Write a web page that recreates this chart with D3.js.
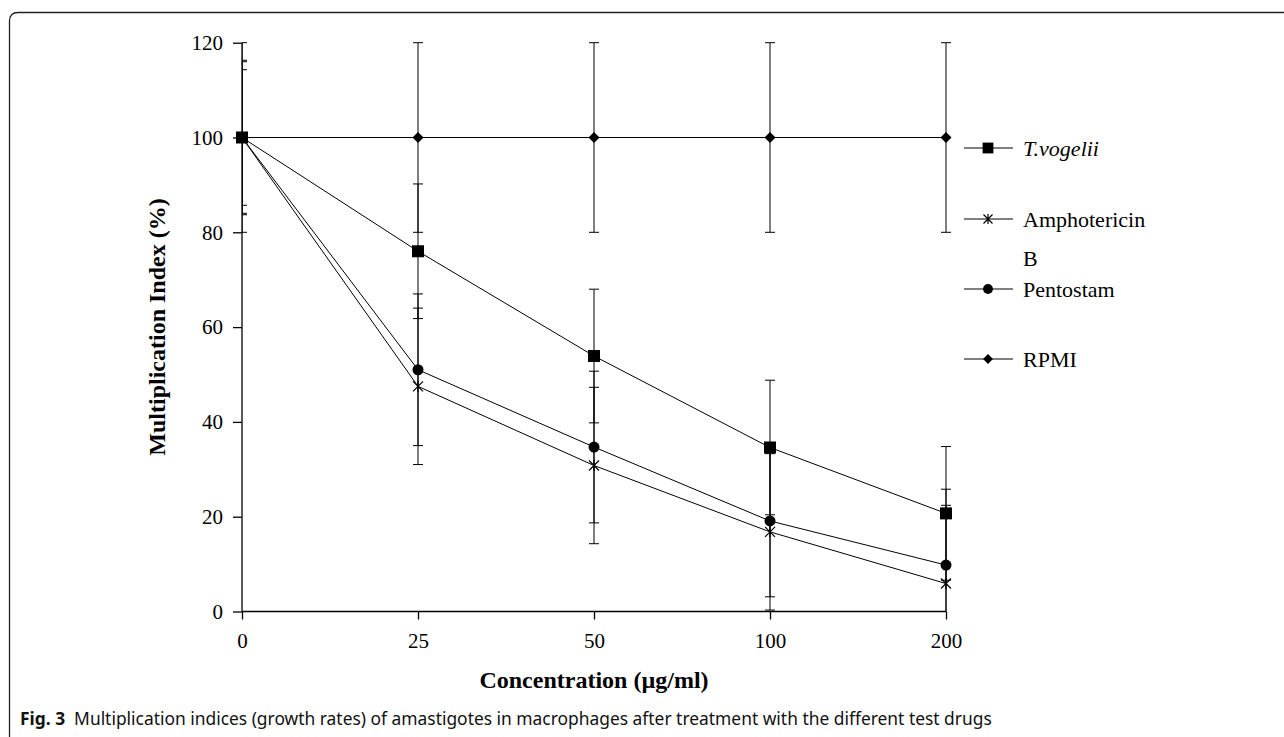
<!DOCTYPE html>
<html lang="en">
<head>
    <meta charset="UTF-8">
    <title>Multiplication indices</title>
    <script src="https://cdn.jsdelivr.net/npm/d3@7"></script>
    <style>
        body {
          margin: 0;
          background: #fff;
        }
        svg text {
          font-family: "Liberation Serif", "Times New Roman", serif;
        }
    </style>
</head>
<body>
    <script>
        // data
        let categories = ['0', '25', '50', '100', '200'];
        let tvogelii = [100, 76, 53.9, 34.6, 20.7];
        let tvogeliiErr = [14.3, 14.2, 14.1, 14.2, 14.1];
        let amphotericin = [100, 47.5, 30.8, 16.8, 5.9];
        let amphotericinErr = [16.3, 16.5, 16.5, 16.5, 16.5];
        let pentostam = [100, 51, 34.7, 19.1, 9.8];
        let pentostamErr = [16, 16, 16, 16, 16];
        let rpmi = [100, 100, 100, 100, 100];
        let rpmiErr = [20, 20, 20, 20, 20];
        let yTicks = [0, 20, 40, 60, 80, 100, 120];

        let series = [
          {name: 'T.vogelii', values: tvogelii, err: tvogeliiErr, symbol: 'square', italic: true},
          {name: 'Amphotericin', name2: 'B', values: amphotericin, err: amphotericinErr, symbol: 'star'},
          {name: 'Pentostam', values: pentostam, err: pentostamErr, symbol: 'circle'},
          {name: 'RPMI', values: rpmi, err: rpmiErr, symbol: 'diamond'}
        ];

        let w = 1284;
        let h = 737;

        let svg = d3.select('body')
                    .append('svg')
                    .attr('width', w)
                    .attr('height', h);

        // frame of the figure panel
        svg.append('path')
           .attr('d', 'M9.5,737 L9.5,21 Q9.5,12.5 18,12.5 L1284,12.5')
           .attr('fill', 'none')
           .attr('stroke', '#222')
           .attr('stroke-width', 1.3);

        let x = d3.scalePoint().domain(categories).range([242, 946]);
        let y = d3.scaleLinear().domain([0, 120]).range([611.5, 42.7]);

        // axes
        let yAxis = d3.axisLeft(y).tickValues(yTicks).tickSize(9).tickPadding(10);
        let gy = svg.append('g').attr('transform', 'translate(242,0)').call(yAxis);
        gy.select('.domain').attr('d', 'M0,' + y(120) + 'V' + y(0));

        let xAxis = d3.axisBottom(x).tickSize(8).tickPadding(14);
        let gx = svg.append('g').attr('transform', 'translate(0,' + y(0) + ')').call(xAxis);
        gx.select('.domain').attr('d', 'M' + x('0') + ',0H' + x('200'));

        svg.selectAll('.domain, .tick line')
           .attr('stroke', '#000')
           .attr('stroke-width', 1.3);
        svg.selectAll('.tick text')
           .attr('fill', '#000')
           .style('font-size', '21px')
           .style('font-family', '"Liberation Serif", serif');

        svg.append('text')
           .attr('transform', 'translate(165,327) rotate(-90)')
           .attr('text-anchor', 'middle')
           .style('font-size', '24px')
           .style('font-weight', 'bold')
           .text('Multiplication Index (%)');

        svg.append('text')
           .attr('x', 594)
           .attr('y', 688)
           .attr('text-anchor', 'middle')
           .style('font-size', '24px')
           .style('font-weight', 'bold')
           .text('Concentration (\u00b5g/ml)');

        // clip error bars to the plot area (left edge is the y axis)
        svg.append('clipPath').attr('id', 'plot')
           .append('rect')
           .attr('x', 242).attr('y', 38)
           .attr('width', 1000).attr('height', y(0) - 38);

        let line = d3.line()
                     .x(function(d, i) { return x(categories[i]); })
                     .y(function(d) { return y(d); });

        svg.selectAll('.series')
           .data(series)
           .enter()
           .append('path')
           .attr('d', function(d) { return line(d.values); })
           .attr('fill', 'none')
           .attr('stroke', '#000')
           .attr('stroke-width', 1);

        let bars = svg.append('g').attr('clip-path', 'url(#plot)');
        series.forEach(function(s) {
          s.values.forEach(function(v, i) {
            let cx = x(categories[i]);
            let hi = y(v + s.err[i]);
            let lo = y(v - s.err[i]);
            bars.append('path')
                .attr('d', 'M' + cx + ',' + hi + 'V' + lo +
                           'M' + (cx - 5) + ',' + hi + 'H' + (cx + 5) +
                           'M' + (cx - 5) + ',' + lo + 'H' + (cx + 5))
                .attr('fill', 'none')
                .attr('stroke', '#000')
                .attr('stroke-width', 1);
          });
        });

        function marker(g, sym, cx, cy, k) {
          if (sym === 'square') {
            g.append('rect').attr('x', cx - 6 * k).attr('y', cy - 6 * k)
             .attr('width', 12 * k).attr('height', 12 * k).attr('fill', '#000');
          } else if (sym === 'circle') {
            g.append('circle').attr('cx', cx).attr('cy', cy).attr('r', 5.5 * k).attr('fill', '#000');
          } else if (sym === 'diamond') {
            let r = 5.5 * k;
            g.append('path')
             .attr('d', 'M' + cx + ',' + (cy - r) + 'L' + (cx + r) + ',' + cy + 'L' + cx + ',' + (cy + r) + 'L' + (cx - r) + ',' + cy + 'Z')
             .attr('fill', '#000');
          } else {
            let r = 5 * k;
            g.append('path')
             .attr('d', 'M' + (cx - r) + ',' + (cy - r) + 'L' + (cx + r) + ',' + (cy + r) +
                        'M' + (cx - r) + ',' + (cy + r) + 'L' + (cx + r) + ',' + (cy - r) +
                        'M' + cx + ',' + (cy - r * 1.1) + 'V' + (cy + r * 1.1))
             .attr('fill', 'none').attr('stroke', '#000').attr('stroke-width', 1.2);
          }
        }

        let marks = svg.append('g');
        series.forEach(function(s) {
          s.values.forEach(function(v, i) {
            marker(marks, s.symbol, x(categories[i]), y(v), 1);
          });
        });

        // legend
        let legendY = [148, 219, 289, 359];
        let legend = svg.append('g');
        series.forEach(function(s, i) {
          let ly = legendY[i];
          legend.append('path')
                .attr('d', 'M964,' + ly + 'H1013')
                .attr('stroke', '#000')
                .attr('stroke-width', 1);
          marker(legend, s.symbol, 988, ly, 0.9);
          legend.append('text')
                .attr('x', 1023)
                .attr('y', ly + 8)
                .style('font-size', '22px')
                .style('font-style', s.italic ? 'italic' : 'normal')
                .text(s.name);
          if (s.name2) {
            legend.append('text')
                  .attr('x', 1023)
                  .attr('y', ly + 47)
                  .style('font-size', '22px')
                  .text(s.name2);
          }
        });

        // caption
        let cap = svg.append('text')
                     .attr('x', 20)
                     .attr('y', 725)
                     .style('font-family', '"Noto Sans", sans-serif')
                     .style('font-size', '17.4px')
                     .attr('fill', '#111');
        cap.append('tspan').style('font-weight', 'bold').text('Fig. 3');
        cap.append('tspan').attr('dx', 9)
           .text('Multiplication indices (growth rates) of amastigotes in macrophages after treatment with the different test drugs');
    </script>
</body>
</html>
